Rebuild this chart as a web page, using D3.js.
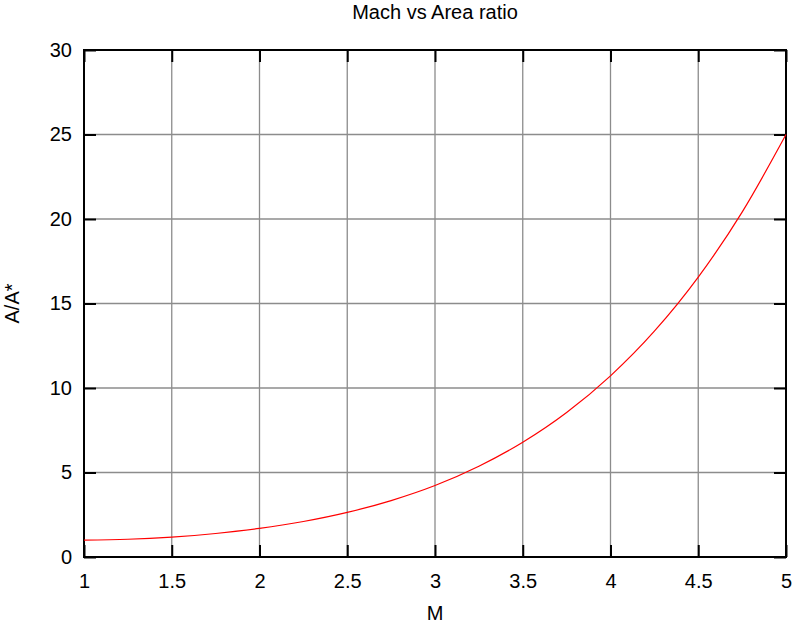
<!DOCTYPE html>
<html>
<head>
<meta charset="utf-8">
<script src="https://cdn.jsdelivr.net/npm/d3@7"></script>
<style>
  body { margin: 0; background: #fff; }
  svg { font-family: "Liberation Sans", Arial, sans-serif; }
</style>
</head>
<body>
<svg width="794" height="625"></svg>
<script>
"use strict";

// Mach number vs area ratio
const mach = [1, 1.25, 1.5, 1.75, 2, 2.25, 2.5, 2.75, 3, 3.25, 3.5, 3.75, 4, 4.25, 4.5, 4.75, 5];
const areaRatio = [1.0, 1.05, 1.18, 1.39, 1.69, 2.10, 2.64, 3.34, 4.23, 5.37, 6.79, 8.55, 10.72, 13.36, 16.56, 20.41, 25.0];
const xTicks = [1, 1.5, 2, 2.5, 3, 3.5, 4, 4.5, 5];
const yTicks = [0, 5, 10, 15, 20, 25, 30];

const svg = d3.select("svg");
const pLeft = 84, pRight = 786, pTop = 50, pBottom = 557;

const x = d3.scaleLinear().domain([1, 5]).range([pLeft, pRight]);
const y = d3.scaleLinear().domain([0, 30]).range([pBottom, pTop]);

// grid
svg.append("g").selectAll("line").data(xTicks.slice(1, -1)).enter()
  .append("line")
  .attr("x1", d => x(d)).attr("x2", d => x(d))
  .attr("y1", pTop).attr("y2", pBottom)
  .attr("stroke", "#8c8c8c").attr("stroke-width", 1.3);
svg.append("g").selectAll("line").data(yTicks.slice(1, -1)).enter()
  .append("line")
  .attr("x1", pLeft).attr("x2", pRight)
  .attr("y1", d => y(d)).attr("y2", d => y(d))
  .attr("stroke", "#8c8c8c").attr("stroke-width", 1.3);

// axes with inward ticks (gnuplot style), on all four sides
const tickLen = 12;
const axB = svg.append("g").attr("transform", `translate(0,${pBottom})`)
  .call(d3.axisBottom(x).tickValues(xTicks).tickSizeInner(-tickLen).tickSizeOuter(0).tickPadding(17).tickFormat(d3.format("")));
const axT = svg.append("g").attr("transform", `translate(0,${pTop})`)
  .call(d3.axisTop(x).tickValues(xTicks).tickSizeInner(-tickLen).tickSizeOuter(0).tickFormat(""));
const axL = svg.append("g").attr("transform", `translate(${pLeft},0)`)
  .call(d3.axisLeft(y).tickValues(yTicks).tickSizeInner(-tickLen).tickSizeOuter(0).tickPadding(12));
const axR = svg.append("g").attr("transform", `translate(${pRight},0)`)
  .call(d3.axisRight(y).tickValues(yTicks).tickSizeInner(-tickLen).tickSizeOuter(0).tickFormat(""));

[axB, axT, axL, axR].forEach(a => {
  a.select(".domain").remove();
  a.selectAll(".tick line").attr("stroke", "#000").attr("stroke-width", 2);
  a.selectAll("text").attr("font-size", 20).attr("fill", "#000")
    .attr("font-family", "Liberation Sans, Arial, sans-serif");
});

// border
svg.append("rect")
  .attr("x", pLeft).attr("y", pTop)
  .attr("width", pRight - pLeft).attr("height", pBottom - pTop)
  .attr("fill", "none").attr("stroke", "#000").attr("stroke-width", 2);

// curve
const line = d3.line()
  .x((d, i) => x(mach[i]))
  .y(d => y(d))
  .curve(d3.curveMonotoneX);
svg.append("path")
  .attr("d", line(areaRatio))
  .attr("fill", "none")
  .attr("stroke", "#ff0000")
  .attr("stroke-width", 1.2);

// titles
svg.append("text").attr("x", 435).attr("y", 19).attr("text-anchor", "middle")
  .attr("font-size", 20).text("Mach vs Area ratio");
svg.append("text").attr("x", 435).attr("y", 620).attr("text-anchor", "middle")
  .attr("font-size", 20).text("M");
svg.append("text").attr("transform", `translate(19,${(pTop + pBottom) / 2}) rotate(-90)`)
  .attr("text-anchor", "middle").attr("font-size", 20).text("A/A*");
</script>
</body>
</html>
